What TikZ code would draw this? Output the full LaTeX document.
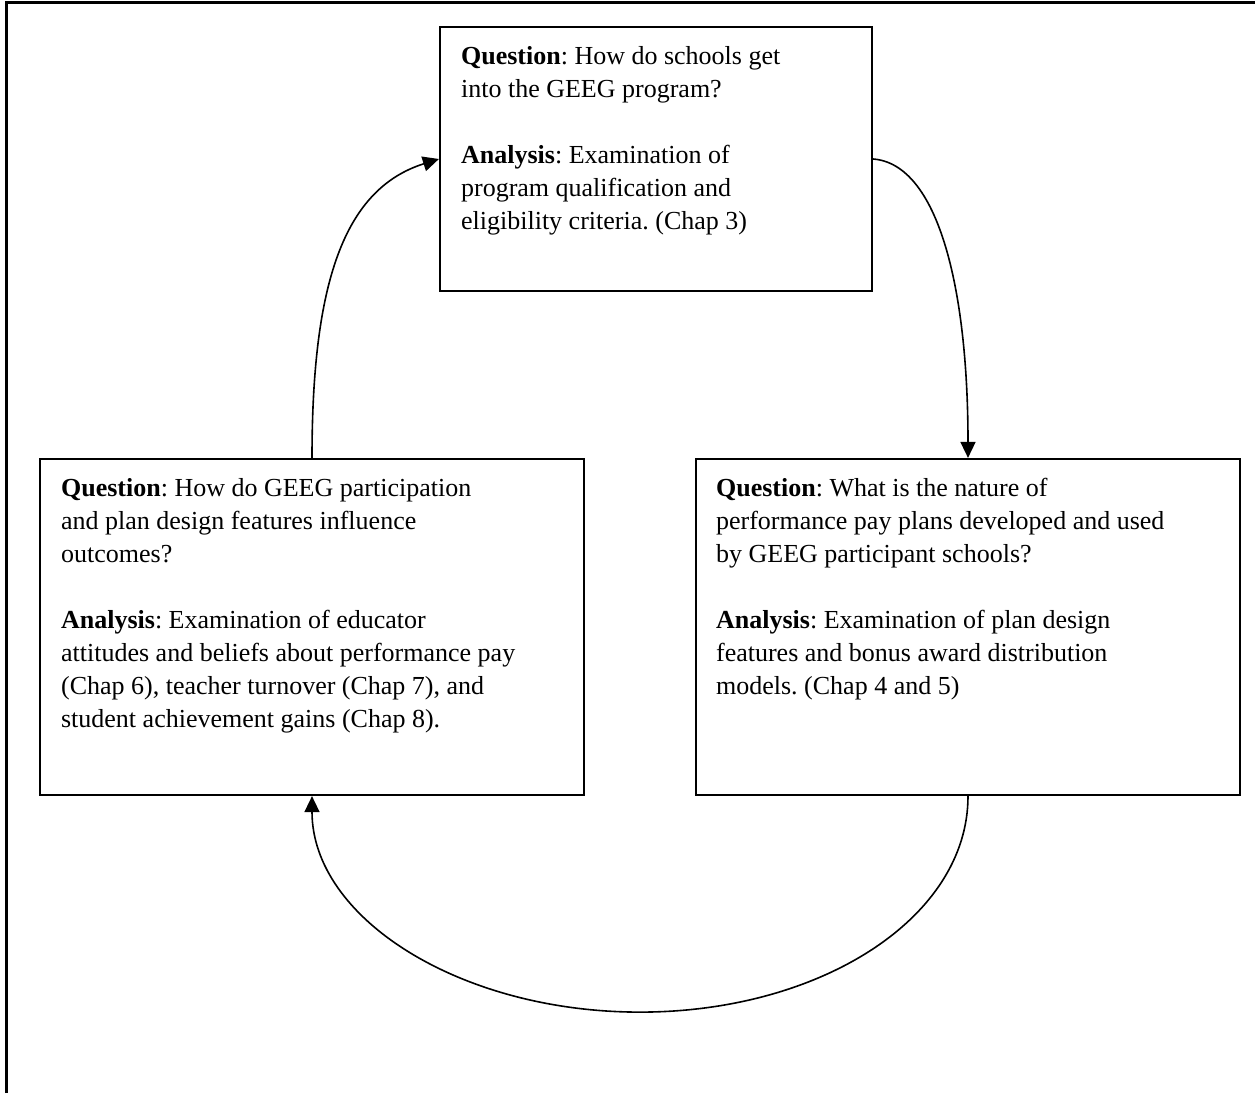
\documentclass[tikz,border=0pt]{standalone}
\usepackage{fontspec}
\setmainfont{Liberation Serif}
\usetikzlibrary{arrows.meta,calc}
\frenchspacing
\tikzset{
  box/.style={draw, line width=2.2pt, rectangle, inner sep=0pt},
  txt/.style={inner sep=0pt, align=left, anchor=north west, font=\fontsize{26}{33}\selectfont},
  conn/.style={line width=1.6pt, -{Triangle[length=16pt,width=15pt]}},
  frame/.style={line width=3pt}
}
\begin{document}
\begin{tikzpicture}[x=1pt,y=-1pt]
\useasboundingbox (0,0) rectangle (1255,1093);
% frame
\draw[frame] (6,1093) -- (6,2) -- (1255,2);
% boxes
\node[box, minimum width=432pt, minimum height=264pt] (T) at (656,159) {};
\node[box, minimum width=544pt, minimum height=336pt] (L) at (312,627) {};
\node[box, minimum width=544pt, minimum height=336pt] (R) at (968,627) {};
% texts
\node[txt] (Tt) at ([xshift=22pt,yshift=-15pt]T.north west) {\strut\textbf{Question}: How do schools get\\
into the GEEG program?\\[33pt]
\textbf{Analysis}: Examination of\\
program qualification and\\
eligibility criteria. (Chap 3)};
\node[txt] (Lt) at ([xshift=22pt,yshift=-15pt]L.north west) {\strut\textbf{Question}: How do GEEG participation\\
and plan design features influence\\
outcomes?\\[33pt]
\textbf{Analysis}: Examination of educator\\
attitudes and beliefs about performance pay\\
(Chap 6), teacher turnover (Chap 7), and\\
student achievement gains (Chap 8).};
\node[txt] (Rt) at ([xshift=21pt,yshift=-15pt]R.north west) {\strut\textbf{Question}: What is the nature of\\
performance pay plans developed and used\\
by GEEG participant schools?\\[33pt]
\textbf{Analysis}: Examination of plan design\\
features and bonus award distribution\\
models. (Chap 4 and 5)};
% connectors
\coordinate (bot) at ($($(L.south)!0.5!(R.south)$)+(0,216)$);
\draw[conn] (L.north) .. controls +(0,-175) and +(-95,30) .. (T.west);
\draw[conn] (T.east) .. controls +(65,5) and +(0,-170) .. (R.north);
\draw[conn] (R.south) .. controls +(0,122) and +(180,0) .. (bot)
  .. controls +(-180,0) and +(0,122) .. (L.south);
\end{tikzpicture}
\end{document}
